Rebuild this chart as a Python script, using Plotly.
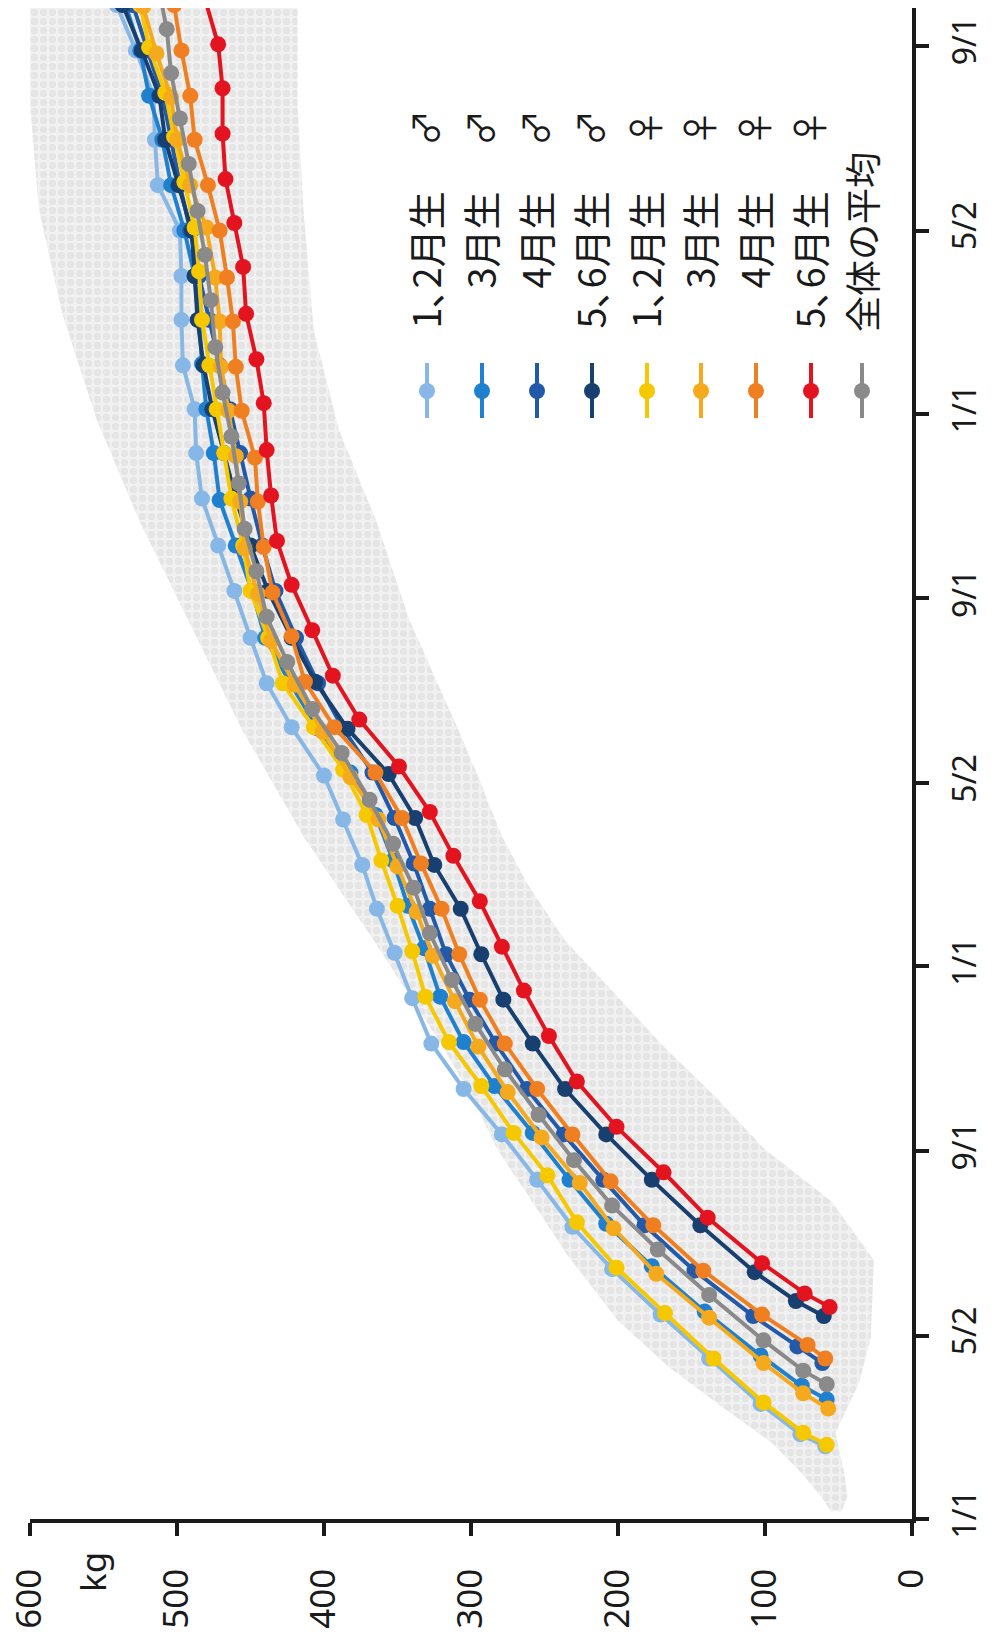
import plotly.graph_objects as go

# ---------------- data (x = days since 1/1 of birth year, y = kg) ----------------
lb_day = [48, 56, 76, 106, 135, 165, 193, 224, 254, 284, 314, 344, 374, 403, 432, 462, 491, 523, 552, 582, 613, 643, 674, 704, 733, 762, 792, 821, 851, 881, 911, 940, 970, 1000]
lb_kg = [59, 76, 103, 138, 171, 204, 231, 255, 279, 305, 327, 340, 352, 364, 374, 387, 400, 422, 439, 450, 461, 472, 483, 487, 488, 496, 497, 497, 498, 513, 515, 516, 528, 541]

b3_day = [79, 88, 108, 137, 167, 195, 224, 255, 286, 315, 345, 377, 405, 435, 465, 493, 522, 552, 582, 613, 643, 673, 704, 733, 763, 792, 821, 851, 881, 911, 940, 970, 1000]
b3_kg = [58, 75, 103, 141, 177, 208, 233, 258, 284, 305, 321, 332, 343, 353, 365, 382, 404, 423, 440, 449, 460, 471, 475, 480, 483, 485, 488, 495, 504, 510, 519, 525, 535]

b4_day = [103, 114, 134, 164, 194, 224, 254, 284, 314, 343, 373, 403, 433, 463, 493, 522, 552, 582, 613, 643, 674, 704, 733, 762, 792, 821, 851, 881, 911, 940, 970, 1000]
b4_kg = [61, 78, 108, 148, 182, 210, 237, 262, 283, 301, 317, 328, 339, 352, 367, 387, 404, 419, 433, 442, 450, 457, 464, 471, 478, 485, 491, 498, 504, 510, 520, 530]

nv_day = [134, 144, 163, 194, 224, 254, 284, 314, 343, 373, 403, 432, 463, 492, 522, 553, 582, 613, 643, 674, 704, 733, 762, 792, 821, 851, 881, 911, 940, 970, 1000]
nv_kg = [60, 79, 107, 144, 177, 208, 236, 258, 278, 293, 307, 325, 338, 356, 384, 406, 422, 438, 450, 460, 468, 476, 482, 486, 488, 490, 499, 508, 512, 524, 537]

ye_day = [49, 57, 77, 106, 136, 166, 196, 227, 255, 286, 315, 345, 375, 405, 435, 465, 495, 523, 552, 582, 613, 643, 674, 704, 733, 762, 792, 824, 853, 883, 913, 942, 972, 1000]
ye_kg = [58, 74, 101, 135, 168, 201, 228, 248, 271, 293, 315, 331, 340, 350, 361, 371, 387, 407, 428, 438, 450, 455, 463, 468, 473, 478, 483, 485, 488, 495, 502, 508, 519, 525]

lo_day = [73, 83, 103, 133, 162, 192, 222, 252, 282, 312, 342, 372, 401, 431, 462, 490, 520, 551, 580, 611, 641, 672, 702, 732, 761, 791, 820, 853, 881, 911, 939, 968, 999]
lo_kg = [57, 74, 101, 138, 174, 203, 226, 252, 275, 295, 311, 326, 337, 350, 363, 382, 401, 420, 436, 445, 454, 457, 460, 465, 470, 471, 474, 480, 491, 500, 504, 514, 523]

or_day = [106, 115, 135, 164, 194, 223, 254, 284, 314, 343, 373, 403, 433, 463, 493, 523, 553, 583, 612, 642, 672, 701, 732, 761, 791, 820, 851, 881, 911, 940, 970, 1000]
or_kg = [59, 71, 102, 142, 176, 205, 231, 255, 277, 294, 308, 320, 334, 347, 365, 393, 413, 422, 435, 441, 445, 447, 456, 460, 462, 466, 471, 479, 488, 491, 497, 502]

rd_day = [140, 149, 169, 199, 229, 259, 289, 319, 349, 378, 408, 438, 467, 497, 528, 557, 587, 617, 646, 676, 706, 737, 766, 796, 827, 856, 885, 915, 945, 974, 1004]
rd_kg = [56, 73, 102, 139, 169, 201, 228, 247, 264, 279, 294, 312, 328, 349, 376, 394, 408, 422, 432, 436, 439, 441, 446, 453, 455, 461, 467, 469, 469, 472, 481]

gy_day = [89, 98, 118, 148, 178, 207, 237, 267, 297, 327, 356, 387, 417, 446, 475, 506, 535, 566, 596, 626, 654, 684, 715, 744, 774, 805, 835, 864, 895, 925, 955, 984, 1014]
gy_kg = [58, 74, 101, 138, 173, 204, 230, 254, 277, 297, 313, 328, 339, 353, 369, 388, 408, 425, 439, 446, 454, 458, 463, 469, 474, 477, 481, 486, 492, 498, 504, 507, 513]

# envelope of the individual-animal cloud (heavy side / light side)
cloud_hi_day = [5, 15, 30, 50, 71, 100, 131, 175, 209, 244, 280, 313, 382, 451, 520, 589, 658, 727, 796, 865, 934, 998]
cloud_hi_kg = [55, 62, 75, 95, 125, 165, 200, 235, 258, 282, 300, 320, 366, 414, 455, 490, 525, 555, 578, 594, 600, 600]
cloud_lo_day = [5, 15, 30, 57, 90, 120, 171, 210, 244, 280, 313, 350, 382, 420, 451, 490, 520, 594, 658, 720, 785, 865, 934, 998]
cloud_lo_kg = [48, 44, 46, 52, 36, 28, 26, 55, 100, 135, 170, 205, 236, 262, 279, 295, 308, 342, 364, 390, 407, 414, 418, 418]

kg_ticks = [0, 100, 200, 300, 400, 500, 600]
date_tickvals = [0, 121, 243, 365, 486, 608, 730, 851, 973]
date_ticktext = ["1/1", "5/2", "9/1", "1/1", "5/2", "9/1", "1/1", "5/2", "9/1"]

series = [
    ("1､2月生", "♂", "#86b7e6", lb_day, lb_kg),
    ("3月生", "♂", "#1f80cf", b3_day, b3_kg),
    ("4月生", "♂", "#2259a8", b4_day, b4_kg),
    ("5､6月生", "♂", "#173f70", nv_day, nv_kg),
    ("1､2月生", "♀", "#f6c800", ye_day, ye_kg),
    ("3月生", "♀", "#f5a91c", lo_day, lo_kg),
    ("4月生", "♀", "#f07f22", or_day, or_kg),
    ("5､6月生", "♀", "#e3131f", rd_day, rd_kg),
]
avg_label, avg_color = "全体の平均", "#8a8a8a"

# ---------------- figure ----------------
# the page body adds an 8px offset, so the figure is drawn 8px smaller
OFF = 8
W, H = 991 - OFF, 1639 - OFF
# plot area in window pixels
SX0, SX1, SY0, SY1 = 30, 912, 8, 1519
L, T = SX0 - OFF, SY0 - OFF
R, B = W - (SX1 - OFF), H - (SY1 - OFF)


def px(x):
    return (x - SX0) / (SX1 - SX0)


def py(y):
    return (SY1 - y) / (SY1 - SY0)


fig = go.Figure()

# cloud of individual weights
fig.add_trace(go.Scatter(
    x=cloud_hi_kg + cloud_lo_kg[::-1],
    y=cloud_hi_day + cloud_lo_day[::-1],
    mode="lines", line=dict(width=0, color="rgba(0,0,0,0)"),
    fill="toself", fillcolor="#eeeeee",
    fillpattern=dict(shape=".", fgcolor="#d9d9d9", bgcolor="#f1f1f1", size=9, solidity=0.55),
    hoverinfo="skip", showlegend=False,
))

for name, sx, col, d, k in series:
    fig.add_trace(go.Scatter(
        x=k, y=d, mode="lines+markers", name=name + " " + sx,
        line=dict(color=col, width=4),
        marker=dict(color=col, size=16),
        showlegend=False,
    ))
fig.add_trace(go.Scatter(
    x=gy_kg, y=gy_day, mode="lines+markers", name=avg_label,
    line=dict(color=avg_color, width=4),
    marker=dict(color=avg_color, size=16),
    showlegend=False,
))

ann = []
shapes = []
# axis unit label
ann.append(dict(text="kg", x=px(92), y=py(1572), xref="paper", yref="paper",
                showarrow=False, textangle=-90, xanchor="center", yanchor="middle",
                font=dict(family="Noto Sans", size=35, color="#1a1a1a")))

# hand-made rotated legend
col_x = [424, 479, 534, 589, 644, 698, 753, 808]
jp = "Noto Sans CJK JP"
for (name, sx, col, d, k), cx in zip(series, col_x):
    ann.append(dict(text=name, x=px(cx), y=py(190), xref="paper", yref="paper",
                    showarrow=False, textangle=-90, xanchor="center", yanchor="top",
                    font=dict(family=jp, size=38, color="#1a1a1a")))
    ann.append(dict(text=sx, x=px(cx), y=py(128), xref="paper", yref="paper",
                    showarrow=False, textangle=-90, xanchor="center", yanchor="middle",
                    font=dict(family=jp, size=36, color="#1a1a1a")))
    shapes.append(dict(type="line", xref="paper", yref="paper",
                       x0=px(cx + 3), x1=px(cx + 3), y0=py(363), y1=py(418),
                       line=dict(color=col, width=4)))
    shapes.append(dict(type="circle", xref="paper", yref="paper",
                       xsizemode="pixel", ysizemode="pixel",
                       xanchor=px(cx + 3), yanchor=py(391),
                       x0=-8, x1=8, y0=-8, y1=8,
                       fillcolor=col, line=dict(color=col, width=0)))
avg_x = 861
ann.append(dict(text=avg_label, x=px(avg_x), y=py(334), xref="paper", yref="paper",
                showarrow=False, textangle=-90, xanchor="center", yanchor="bottom",
                font=dict(family=jp, size=36, color="#1a1a1a")))
shapes.append(dict(type="line", xref="paper", yref="paper",
                   x0=px(avg_x + 1), x1=px(avg_x + 1), y0=py(363), y1=py(418),
                   line=dict(color=avg_color, width=4)))
shapes.append(dict(type="circle", xref="paper", yref="paper",
                   xsizemode="pixel", ysizemode="pixel",
                   xanchor=px(avg_x + 1), yanchor=py(391),
                   x0=-8, x1=8, y0=-8, y1=8,
                   fillcolor=avg_color, line=dict(color=avg_color, width=0)))

fig.update_layout(
    width=W, height=H,
    margin=dict(l=L, r=R, t=T, b=B, pad=0, autoexpand=False),
    paper_bgcolor="white", plot_bgcolor="white",
    showlegend=False,
    annotations=ann, shapes=shapes,
    xaxis=dict(
        range=[600, 0], tickvals=kg_ticks, ticktext=[str(v) for v in kg_ticks],
        tickangle=-90, showgrid=False, zeroline=False, automargin=False,
        showline=True, linecolor="#1a1a1a", linewidth=3.5,
        ticks="outside", ticklen=13, tickwidth=3.5, tickcolor="#1a1a1a",
        ticklabelstandoff=19, ticklabeloverflow="allow",
        tickfont=dict(family="Noto Sans", size=35, color="#1a1a1a"),
    ),
    yaxis=dict(
        range=[0, 998], side="right", tickvals=date_tickvals, ticktext=date_ticktext,
        tickangle=-90, showgrid=False, zeroline=False, automargin=False,
        showline=True, linecolor="#1a1a1a", linewidth=3.5,
        ticks="outside", ticklen=13, tickwidth=3.5, tickcolor="#1a1a1a",
        ticklabelstandoff=9, ticklabeloverflow="allow",
        tickfont=dict(family="Noto Sans", size=32, color="#1a1a1a"),
    ),
)

fig.write_html("out.html")
